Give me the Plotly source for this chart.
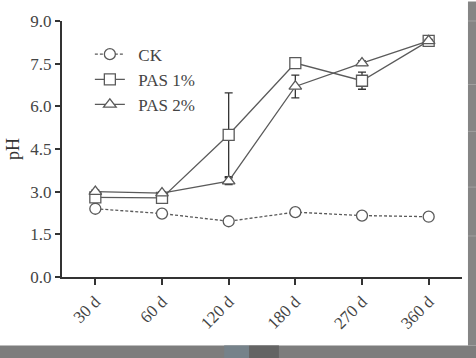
import plotly.graph_objects as go

categories = ["30 d", "60 d", "120 d", "180 d", "270 d", "360 d"]
ck = [2.40, 2.23, 1.96, 2.28, 2.16, 2.12]
ck_err = [0.05, 0.05, 0.05, 0.05, 0.05, 0.05]
pas1 = [2.80, 2.78, 5.00, 7.52, 6.90, 8.30]
pas1_err = [0.05, 0.05, 1.47, 0.12, 0.30, 0.05]
pas2 = [3.00, 2.95, 3.37, 6.70, 7.52, 8.30]
pas2_err = [0.05, 0.05, 0.12, 0.40, 0.08, 0.05]
y_ticks = [0.0, 1.5, 3.0, 4.5, 6.0, 7.5, 9.0]

W, H = 476, 358
L, R, T, B = 60, 462, 15, 277
LINE = "#5a5a5a"
FONT = "Liberation Serif"

fig = go.Figure()

def add(name, y, err, symbol, dash):
    fig.add_trace(go.Scatter(
        x=categories, y=y, name="\u00a0\u00a0" + name, mode="lines+markers",
        line=dict(color=LINE, width=1.3, dash=dash),
        marker=dict(symbol=symbol, size=11, color="white",
                    line=dict(color=LINE, width=1.3)),
        error_y=dict(type="data", array=err, visible=True,
                     color="#333", thickness=1.3, width=4),
    ))

add("CK", ck, ck_err, "circle", "3px,2px")
add("PAS 1%", pas1, pas1_err, "square", "solid")
add("PAS 2%", pas2, pas2_err, "triangle-up", "solid")

def px(x):
    return (x - L) / (R - L)

def py(y):
    return (B - y) / (B - T)

shapes = [
    dict(type="rect", xref="paper", yref="paper", x0=px(468), x1=px(480),
         y0=py(-5), y1=py(347), fillcolor="#858585", line=dict(width=0), layer="above"),
    dict(type="rect", xref="paper", yref="paper", x0=px(-5), x1=px(480),
         y0=py(347), y1=py(362), fillcolor="#7d7d7d", line=dict(width=0), layer="above"),
    dict(type="rect", xref="paper", yref="paper", x0=px(223), x1=px(248),
         y0=py(347), y1=py(362), fillcolor="#76828a", line=dict(width=0), layer="above"),
    dict(type="rect", xref="paper", yref="paper", x0=px(248), x1=px(278),
         y0=py(347), y1=py(362), fillcolor="#646464", line=dict(width=0), layer="above"),
]
for yy in [15, 80, 128, 185, 235]:
    shapes.append(dict(type="line", xref="paper", yref="paper", x0=px(468), x1=px(480),
                       y0=py(yy), y1=py(yy), line=dict(color="#a0a0a0", width=1), layer="above"))

fig.update_layout(
    width=W, height=H,
    margin=dict(l=L, r=W - R, t=T, b=H - B),
    paper_bgcolor="white", plot_bgcolor="white",
    font=dict(family=FONT, color="#333", size=16),
    showlegend=True,
    legend=dict(x=px(88), y=py(31), xanchor="left", yanchor="top",
                bgcolor="rgba(0,0,0,0)", font=dict(size=17, family=FONT, color="#444"),
                tracegroupgap=0, itemwidth=30),
    xaxis=dict(type="category", range=[-0.5, 5.5], showline=True, linecolor="#333",
               linewidth=2, ticks="outside", ticklen=6, tickwidth=2, tickcolor="#333",
               tickangle=-45, showgrid=False, zeroline=False,
               tickfont=dict(size=17, family=FONT, color="#444")),
    yaxis=dict(range=[0, 9], tickvals=y_ticks, ticktext=[f"{v:.1f}" for v in y_ticks],
               showline=True, linecolor="#333", linewidth=2, ticks="outside",
               ticklen=5, tickwidth=2, tickcolor="#333", showgrid=False, zeroline=False,
               title=dict(text="pH", font=dict(size=18, family=FONT, color="#333"), standoff=6),
               tickfont=dict(size=17, family=FONT, color="#444")),
    shapes=shapes,
)

fig.write_html("out.html")
